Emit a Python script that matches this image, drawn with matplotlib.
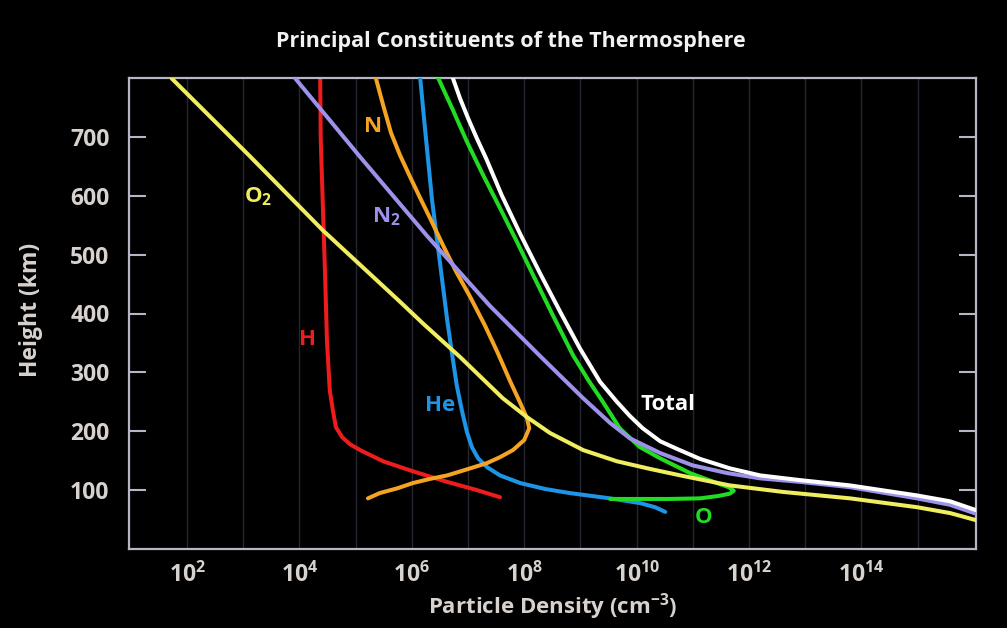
import matplotlib
matplotlib.use("Agg")
import matplotlib.pyplot as plt
from matplotlib import ticker
from matplotlib import font_manager as fm
import numpy as np


def _bold_family(candidates):
    """First candidate family that ships a real bold face."""
    for fam in candidates:
        for f in fm.fontManager.ttflist:
            w = f.weight
            if isinstance(w, str):
                w = {"bold": 700, "heavy": 800, "black": 900, "extra bold": 800,
                     "semibold": 600, "demibold": 600}.get(w.lower(), 400)
            if f.name == fam and w >= 700 and f.style == "normal":
                return fam
    return "DejaVu Sans"


FONT = _bold_family(["Open Sans", "Noto Sans", "Lato", "Roboto", "Liberation Sans"])
plt.rcParams["font.family"] = [FONT, "DejaVu Sans"]
plt.rcParams["font.weight"] = "bold"
plt.rcParams["mathtext.fontset"] = "custom"
plt.rcParams["mathtext.rm"] = f"{FONT}:bold"
plt.rcParams["mathtext.bf"] = f"{FONT}:bold"
plt.rcParams["mathtext.it"] = f"{FONT}:bold"

# Number densities (log10 of cm^-3) against height (km) for each constituent
O2_LOG = [1.73, 3.12, 4.42, 5.79, 6.20, 6.86, 7.62, 8.05, 8.46, 9.05, 9.65, 10.24, 10.83, 11.66, 12.60, 13.80, 14.99, 15.58, 16.04]
O2_H = [799, 667, 541, 420, 383, 326, 256, 224, 197, 168, 149, 136, 124, 108, 97, 86, 71, 61, 49]

N2_LOG = [3.92, 5.08, 6.27, 7.39, 8.28, 9.05, 9.53, 9.88, 10.42, 11.00, 11.61, 12.20, 12.91, 13.80, 14.99, 15.58, 16.04]
N2_H = [800, 666, 532, 413, 328, 256, 214, 188, 163, 142, 129, 120, 114, 105, 86, 75, 60]

TOTAL_LOG = [6.73, 6.86, 7.00, 7.16, 7.32, 7.60, 7.94, 8.30, 8.64, 8.99, 9.35, 9.65, 9.88, 10.11, 10.42, 10.72, 11.13, 11.66, 12.20, 12.91, 13.80, 14.99, 15.58, 16.04]
TOTAL_H = [800, 765, 732, 697, 664, 601, 533, 465, 403, 341, 284, 250, 226, 205, 183, 170, 153, 137, 125, 117, 108, 91, 81, 66]

O_LOG = [6.47, 6.73, 6.98, 7.27, 7.57, 7.87, 8.16, 8.51, 8.87, 9.14, 9.40, 9.70, 10.06, 10.42, 10.95, 11.40, 11.64, 11.73, 11.66, 11.45, 11.13, 10.59, 10.06, 9.53]
O_H = [800, 746, 692, 635, 579, 522, 465, 397, 329, 287, 250, 205, 173, 154, 129, 113, 105, 99, 94, 90, 86, 85, 85, 85]

HE_LOG = [6.15, 6.22, 6.29, 6.36, 6.45, 6.54, 6.63, 6.72, 6.80, 6.89, 6.98, 7.07, 7.18, 7.34, 7.57, 7.93, 8.37, 8.81, 9.53, 10.06, 10.33, 10.51]
HE_H = [800, 729, 661, 593, 525, 457, 389, 329, 278, 236, 199, 173, 154, 139, 125, 112, 102, 95, 86, 78, 71, 63]

N_LOG = [5.36, 5.49, 5.63, 5.79, 5.97, 6.15, 6.34, 6.56, 6.79, 7.04, 7.30, 7.53, 7.75, 7.93, 8.05, 8.09, 8.00, 7.80, 7.57, 7.34, 7.04, 6.63, 6.32, 6.02, 5.74, 5.43, 5.22]
N_H = [800, 754, 707, 669, 632, 596, 559, 515, 471, 428, 380, 333, 285, 248, 222, 205, 185, 168, 156, 146, 137, 125, 119, 112, 103, 95, 86]

H_LOG = [4.37, 4.38, 4.42, 4.46, 4.49, 4.54, 4.60, 4.65, 4.76, 4.90, 5.08, 5.49, 6.02, 6.63, 7.16, 7.57]
H_H = [800, 695, 576, 457, 355, 270, 233, 207, 190, 178, 168, 149, 132, 114, 100, 88]

HEIGHT_TICKS = [100, 200, 300, 400, 500, 600, 700]
DENSITY_EXPONENTS = [2, 4, 6, 8, 10, 12, 14]
GRID_EXPONENTS = list(range(2, 16))

series = [
    ("H", H_LOG, H_H, "#ee1c1c", 2),
    ("He", HE_LOG, HE_H, "#1e94e6", 3),
    ("N", N_LOG, N_H, "#f4a322", 4),
    ("O", O_LOG, O_H, "#22dc22", 5),
    ("O2", O2_LOG, O2_H, "#f0ee5e", 6),
    ("N2", N2_LOG, N2_H, "#9c92ea", 7),
    ("Total", TOTAL_LOG, TOTAL_H, "#ffffff", 8),
]

W, H = 1007, 628
fig = plt.figure(figsize=(W / 100, H / 100), dpi=100, facecolor="black")
ax = fig.add_axes([129 / W, 1 - 549 / H, (976 - 129) / W, (549 - 78) / H])
ax.set_facecolor("black")
ax.set_xscale("log")
ax.set_xlim(10 ** 0.968, 10 ** 16.04)
ax.set_ylim(0, 800)

for name, logs, hts, color, z in series:
    ax.plot(10 ** np.asarray(logs), hts, color=color, lw=2.9,
            solid_capstyle="round", solid_joinstyle="round", zorder=z)

frame = "#b6b6c6"
text_grey = "#d8d2ce"
for sp in ax.spines.values():
    sp.set_color(frame)
    sp.set_linewidth(1.6)

ax.set_yticks(HEIGHT_TICKS)
ax.tick_params(axis="y", which="both", direction="in", length=12.5, width=1.5,
               color=frame, left=True, right=True, labelsize=16.5,
               labelcolor=text_grey, pad=14)

ax.xaxis.set_major_locator(ticker.FixedLocator([10.0 ** e for e in DENSITY_EXPONENTS]))
ax.xaxis.set_minor_locator(ticker.FixedLocator([10.0 ** e for e in GRID_EXPONENTS]))
ax.xaxis.set_major_formatter(ticker.FuncFormatter(
    lambda v, p: r"$\mathbf{10^{%d}}$" % round(np.log10(v))))
ax.xaxis.set_minor_formatter(ticker.NullFormatter())
ax.tick_params(axis="x", which="both", length=0, labelsize=16.5,
               labelcolor=text_grey, pad=10)
ax.grid(True, axis="x", which="both", color="#262632", lw=1.0, zorder=0)

fig.text(511 / W, 1 - 42 / H, "Principal Constituents of the Thermosphere",
         ha="center", va="center", fontsize=15.5, fontweight="bold", color="#f2f2f2")
fig.text(31 / W, 1 - 310 / H, "Height (km)", rotation=90, ha="center",
         va="center", fontsize=16.5, fontweight="bold", color=text_grey)
fig.text(553 / W, 1 - 607 / H, r"Particle Density (cm$^{\mathbf{-3}}$)",
         ha="center", va="center", fontsize=16, fontweight="bold", color=text_grey)

# Curve name labels in data coordinates
labels = [
    (r"$\mathbf{O_2}$", 10 ** 3.27, 598, "#f0ee5e"),
    (r"$\mathbf{N_2}$", 10 ** 5.55, 565, "#9c92ea"),
    ("N", 10 ** 5.31, 717, "#f4a322"),
    ("H", 10 ** 4.14, 355, "#ee1c1c"),
    ("He", 10 ** 6.50, 244, "#1e94e6"),
    ("Total", 10 ** 10.56, 245, "#ffffff"),
    ("O", 10 ** 11.20, 54, "#22dc22"),
]
for txt, x, y, c in labels:
    ax.text(x, y, txt, color=c, fontsize=16, fontweight="bold",
            ha="center", va="center", zorder=10)

fig.savefig("out.png", dpi=100, facecolor="black")
